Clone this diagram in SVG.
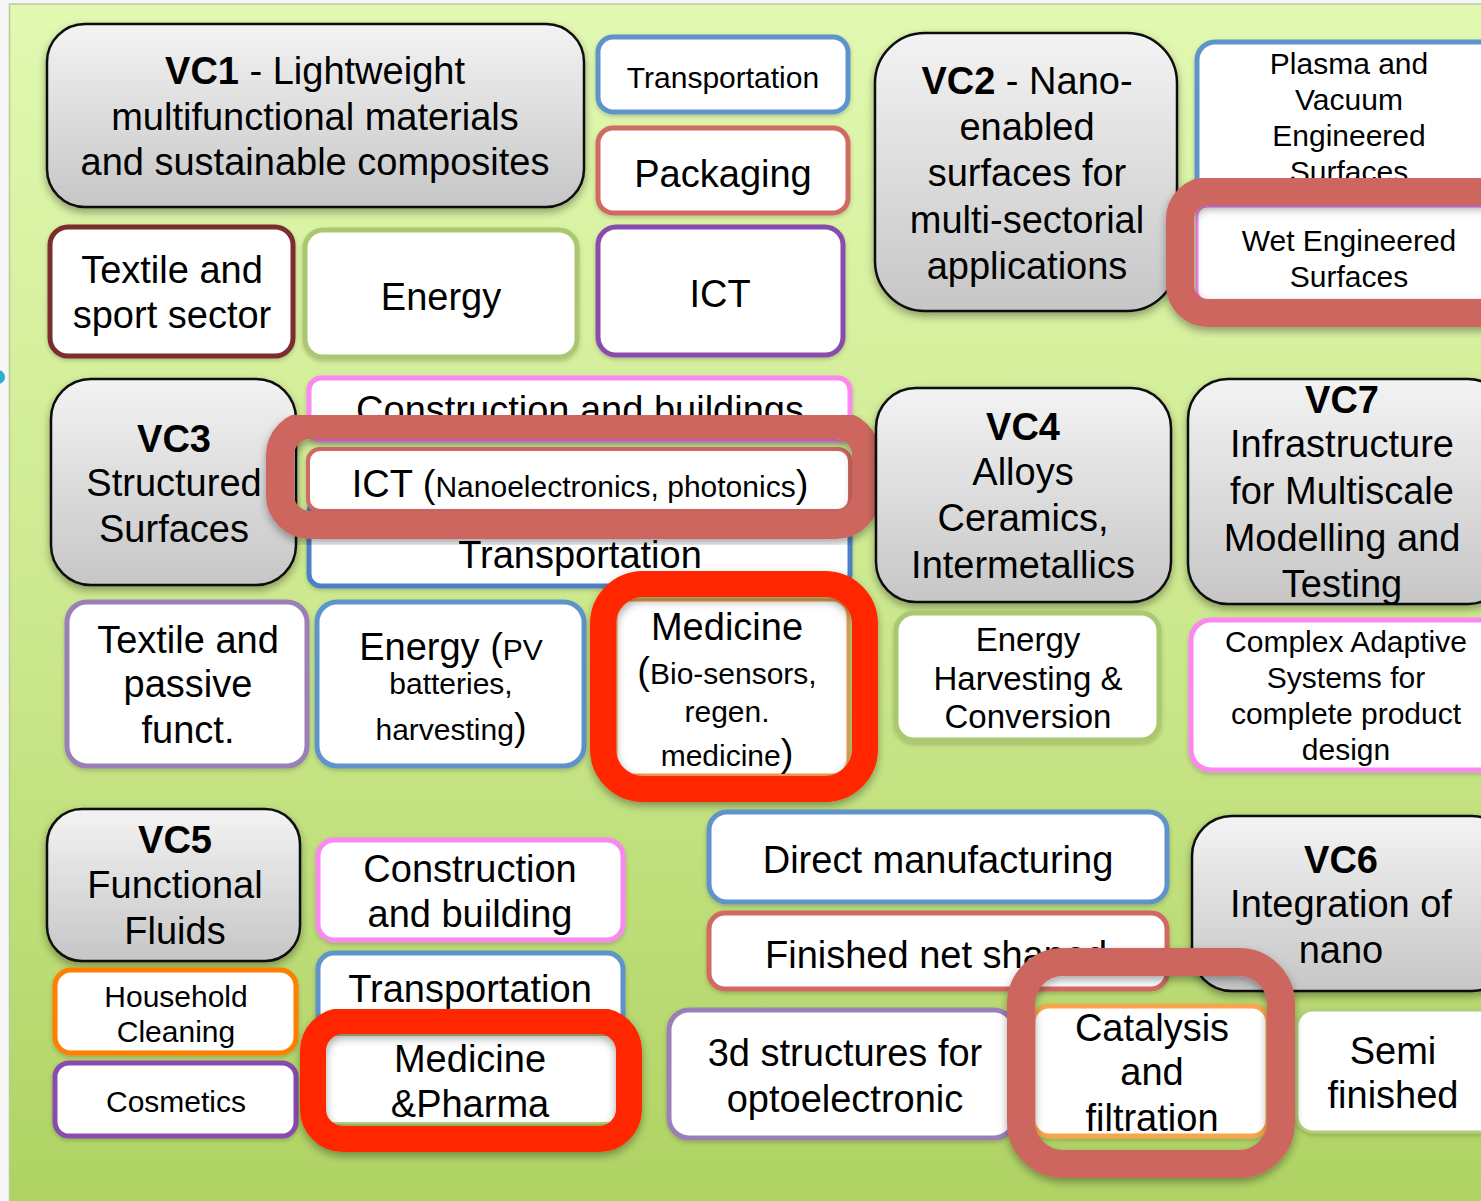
<svg xmlns="http://www.w3.org/2000/svg" width="1481" height="1201" viewBox="0 0 1481 1201">
<style>
text{font-family:"Liberation Sans",Arial,Helvetica,sans-serif;fill:#000;text-anchor:middle}
.t38{font-size:38px}
.t30{font-size:30px}
.b{font-weight:bold}
.vc{fill:url(#gray);stroke:#111;stroke-width:2.5;filter:url(#sh)}
.box{fill:#fff;stroke-width:5;filter:url(#sh2)}
.blue{stroke:#5f94cb}
.blue2{stroke:#4b80c6}
.salmon{stroke:#d06b62}
.purple{stroke:#8a4baf}
.mpurple{stroke:#9b80b8}
.pink{stroke:#fa88f0}
.olive{stroke:#a9c86f}
.brown{stroke:#7b2f2f}
.orange{stroke:#ff7f00}
.frameA{fill:none;stroke:#cc665e;stroke-width:28;filter:url(#sh)}
.frameB{fill:none;stroke:#ff2600;stroke-width:26;filter:url(#sh)}
</style>
<defs>
<linearGradient id="bg" x1="0" y1="0" x2="0" y2="1">
<stop offset="0" stop-color="#e1f9b1"/>
<stop offset="0.5" stop-color="#cde98f"/>
<stop offset="1" stop-color="#aed262"/>
</linearGradient>
<linearGradient id="gray" x1="0" y1="0" x2="0" y2="1">
<stop offset="0" stop-color="#f3f3f3"/>
<stop offset="1" stop-color="#c6c6c6"/>
</linearGradient>
<filter id="sh" x="-10%" y="-10%" width="120%" height="130%">
<feDropShadow dx="0" dy="4" stdDeviation="4" flood-color="#000" flood-opacity="0.35"/>
</filter>
<filter id="sh2" x="-10%" y="-10%" width="120%" height="130%">
<feDropShadow dx="0" dy="2" stdDeviation="2" flood-color="#000" flood-opacity="0.2"/>
</filter>
</defs>

<rect x="0" y="0" width="1481" height="1201" fill="#f7f7f7"/>
<rect x="9.5" y="4" width="1480" height="1210" fill="url(#bg)" stroke="#b9c99c" stroke-width="1.5"/>
<circle cx="-2" cy="377" r="7" fill="#2ab0d0"/>

<g id="connectors"></g>

<g id="vc1">
<rect class="vc" x="47" y="24" width="537" height="183" rx="38"/>
<text class="t38" x="315" y="84"><tspan class="b">VC1</tspan> - Lightweight</text>
<text class="t38" x="315" y="130">multifunctional materials</text>
<text class="t38" x="315" y="175">and sustainable composites</text>
</g>

<g id="transportation-1">
<rect class="box blue" x="598" y="37" width="250" height="75" rx="15"/>
<text class="t30" x="723" y="88">Transportation</text>
</g>

<g id="packaging">
<rect class="box salmon" x="598" y="128" width="250" height="85" rx="15"/>
<text class="t38" x="723" y="187">Packaging</text>
</g>

<g id="textile-sport">
<rect class="box brown" x="50" y="227" width="243" height="129" rx="18"/>
<text class="t38" x="172" y="283">Textile and</text>
<text class="t38" x="172" y="328">sport sector</text>
</g>

<g id="energy-1">
<rect class="box olive" x="305" y="230" width="272" height="127" rx="18"/>
<text class="t38" x="441" y="310">Energy</text>
</g>

<g id="ict-1">
<rect class="box purple" x="598" y="227" width="245" height="128" rx="18"/>
<text class="t38" x="720" y="307">ICT</text>
</g>

<g id="vc2">
<rect class="vc" x="875" y="33" width="302" height="278" rx="50"/>
<text class="t38" x="1027" y="94"><tspan class="b">VC2</tspan> - Nano-</text>
<text class="t38" x="1027" y="140">enabled</text>
<text class="t38" x="1027" y="186">surfaces for</text>
<text class="t38" x="1027" y="233">multi-sectorial</text>
<text class="t38" x="1027" y="279">applications</text>
</g>

<g id="plasma">
<rect class="box blue" x="1197" y="42" width="320" height="160" rx="18"/>
<text class="t30" x="1349" y="74">Plasma and</text>
<text class="t30" x="1349" y="110">Vacuum</text>
<text class="t30" x="1349" y="146">Engineered</text>
<text class="t30" x="1349" y="182">Surfaces</text>
</g>

<g id="wet">
<rect class="box pink" x="1197" y="206" width="320" height="95" rx="10" style="stroke-width:3"/>
<text class="t30" x="1349" y="251">Wet Engineered</text>
<text class="t30" x="1349" y="287">Surfaces</text>
<rect class="frameA" x="1180" y="191" width="360" height="122" rx="28"/>
</g>

<g id="vc3">
<rect class="vc" x="51" y="379" width="245" height="206" rx="40"/>
<text class="t38 b" x="174" y="452">VC3</text>
<text class="t38" x="174" y="496">Structured</text>
<text class="t38" x="174" y="542">Surfaces</text>
</g>

<g id="construction-1">
<rect class="box pink" x="309" y="378" width="541" height="62" rx="12"/>
<text class="t38" x="580" y="423">Construction and buildings</text>
</g>

<g id="transportation-2">
<rect class="box blue2" x="309" y="500" width="541" height="86" rx="12"/>
<text class="t38" x="580" y="568">Transportation</text>
</g>

<g id="ict-2">
<rect class="box salmon" x="308" y="449" width="542" height="62" rx="12" style="stroke-width:4"/>
<text class="t38" x="580" y="497">ICT (<tspan class="t30">Nanoelectronics, photonics</tspan>)</text>
<rect class="frameA" x="280" y="425" width="586" height="100" rx="30"/>
</g>

<g id="textile-passive">
<rect class="box mpurple" x="67" y="602" width="240" height="164" rx="20"/>
<text class="t38" x="188" y="653">Textile and</text>
<text class="t38" x="188" y="697">passive</text>
<text class="t38" x="188" y="743">funct.</text>
</g>

<g id="energy-pv">
<rect class="box blue" x="317" y="602" width="267" height="164" rx="20"/>
<text class="t38" x="451" y="660">Energy (<tspan class="t30">PV</tspan></text>
<text class="t30" x="451" y="694">batteries,</text>
<text class="t30" x="451" y="740">harvesting<tspan class="t38">)</tspan></text>
</g>

<g id="medicine-1">
<rect class="box" x="616" y="600" width="232" height="175" rx="16" style="stroke:#f0a050;stroke-width:3"/>
<text class="t38" x="727" y="640">Medicine</text>
<text class="t30" x="727" y="684"><tspan class="t38">(</tspan>Bio-sensors,</text>
<text class="t30" x="727" y="722">regen.</text>
<text class="t30" x="727" y="766">medicine<tspan class="t38">)</tspan></text>
<rect class="frameB" x="603" y="584" width="262" height="205" rx="40"/>
</g>

<g id="vc4">
<rect class="vc" x="876" y="388" width="295" height="214" rx="40"/>
<text class="t38 b" x="1023" y="440">VC4</text>
<text class="t38" x="1023" y="485">Alloys</text>
<text class="t38" x="1023" y="531">Ceramics,</text>
<text class="t38" x="1023" y="578">Intermetallics</text>
</g>

<g id="vc7">
<rect class="vc" x="1188" y="379" width="320" height="225" rx="40"/>
<text class="t38 b" x="1342" y="413">VC7</text>
<text class="t38" x="1342" y="457">Infrastructure</text>
<text class="t38" x="1342" y="504">for Multiscale</text>
<text class="t38" x="1342" y="551">Modelling and</text>
<text class="t38" x="1342" y="597">Testing</text>
</g>

<g id="energy-harvesting">
<rect class="box olive" x="896" y="613" width="263" height="127" rx="18"/>
<text style="font-size:33px" x="1028" y="651">Energy</text>
<text style="font-size:33px" x="1028" y="690">Harvesting &amp;</text>
<text style="font-size:33px" x="1028" y="728">Conversion</text>
</g>

<g id="complex-adaptive">
<rect class="box pink" x="1191" y="620" width="320" height="150" rx="20"/>
<text class="t30" x="1346" y="652">Complex Adaptive</text>
<text class="t30" x="1346" y="688">Systems for</text>
<text class="t30" x="1346" y="724">complete product</text>
<text class="t30" x="1346" y="760">design</text>
</g>

<g id="vc5">
<rect class="vc" x="47" y="809" width="253" height="152" rx="35"/>
<text class="t38 b" x="175" y="853">VC5</text>
<text class="t38" x="175" y="898">Functional</text>
<text class="t38" x="175" y="944">Fluids</text>
</g>

<g id="construction-2">
<rect class="box pink" x="318" y="840" width="305" height="100" rx="16"/>
<text class="t38" x="470" y="882">Construction</text>
<text class="t38" x="470" y="927">and building</text>
</g>

<g id="household">
<rect class="box orange" x="55" y="970" width="241" height="83" rx="16"/>
<text class="t30" x="176" y="1007">Household</text>
<text class="t30" x="176" y="1042">Cleaning</text>
</g>

<g id="cosmetics">
<rect class="box purple" x="55" y="1063" width="241" height="73" rx="14"/>
<text class="t30" x="176" y="1112">Cosmetics</text>
</g>

<g id="transportation-3">
<rect class="box blue" x="318" y="953" width="305" height="90" rx="16"/>
<text class="t38" x="470" y="1002">Transportation</text>
</g>

<g id="medicine-pharma">
<rect class="box" x="325" y="1035" width="292" height="88" rx="6" style="stroke:#b5cf7a;stroke-width:2"/>
<text class="t38" x="470" y="1072">Medicine</text>
<text class="t38" x="470" y="1117">&amp;Pharma</text>
<rect class="frameB" x="313" y="1021" width="316" height="118" rx="30"/>
</g>

<g id="direct-manufacturing">
<rect class="box blue" x="709" y="812" width="458" height="90" rx="18"/>
<text class="t38" x="938" y="873">Direct manufacturing</text>
</g>

<g id="vc6">
<rect class="vc" x="1192" y="816" width="320" height="175" rx="40"/>
<text class="t38 b" x="1341" y="873">VC6</text>
<text class="t38" x="1341" y="917">Integration of</text>
<text class="t38" x="1341" y="963">nano</text>
</g>

<g id="finished-net">
<rect class="box salmon" x="709" y="913" width="458" height="76" rx="16"/>
<text class="t38" x="765" y="968" style="text-anchor:start">Finished net shaped</text>
</g>

<g id="optoelectronic">
<rect class="box mpurple" x="669" y="1010" width="345" height="128" rx="20"/>
<text class="t38" x="845" y="1066">3d structures for</text>
<text class="t38" x="845" y="1112">optoelectronic</text>
</g>

<g id="semi-finished">
<rect class="box" x="1297" y="1010" width="220" height="122" rx="16" style="stroke:#b3ce7c;stroke-width:3"/>
<text class="t38" x="1393" y="1064">Semi</text>
<text class="t38" x="1393" y="1108">finished</text>
</g>

<g id="catalysis">
<rect class="box" x="1033" y="1006" width="235" height="130" rx="16" style="stroke:#f8a54e;stroke-width:5"/>
<text class="t38" x="1152" y="1041">Catalysis</text>
<text class="t38" x="1152" y="1085">and</text>
<text class="t38" x="1152" y="1131">filtration</text>
<rect class="frameA" x="1021" y="962" width="260" height="202" rx="42"/>
</g>
</svg>
